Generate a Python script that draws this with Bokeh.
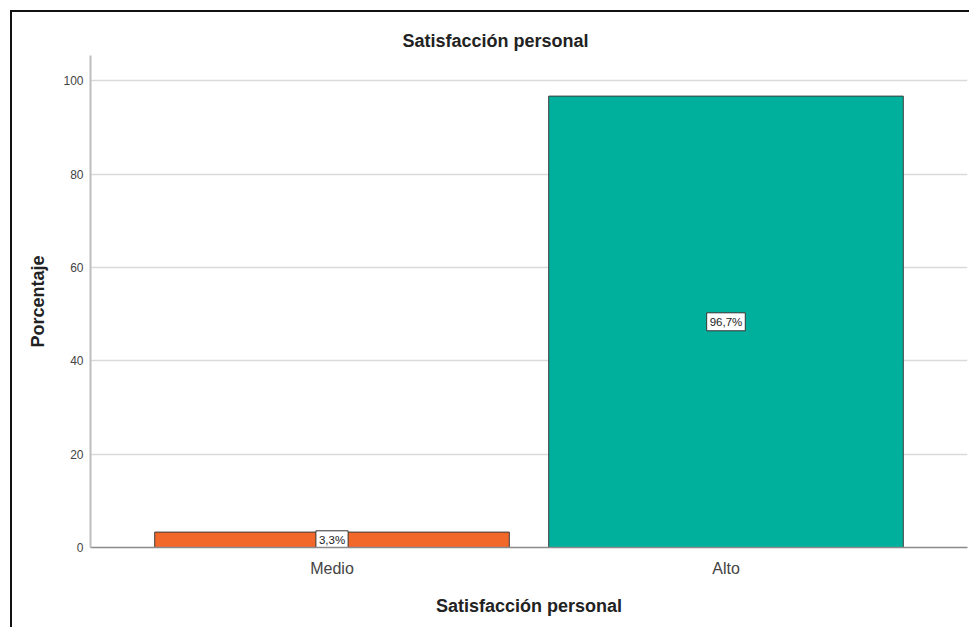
from bokeh.plotting import figure
from bokeh.models import ColumnDataSource, FactorRange, Range1d, FixedTicker, Title
from bokeh.core.properties import value
from bokeh.embed import file_html
from bokeh.resources import INLINE

# Data
categories = ["Medio", "Alto"]
percentages = [3.3, 96.7]
bar_colors = ["#F2672A", "#00B09C"]
y_ticks = [0, 20, 40, 60, 80, 100]

pct_labels = [f"{v:.1f}".replace(".", ",") + "%" for v in percentages]
source = ColumnDataSource(dict(
    cat=categories,
    pct=percentages,
    mid=[v / 2 for v in percentages],
    color=bar_colors,
    label=pct_labels,
))

FONT = "Liberation Sans"

p = figure(
    x_range=FactorRange(factors=categories, range_padding=0.113),
    y_range=Range1d(0, 105.4),
    width=959, height=617,
    min_border_left=78, min_border_right=4,
    min_border_top=43, min_border_bottom=82,
    output_backend="svg", toolbar_location=None,
    background_fill_color="white", border_fill_color="white",
    outline_line_color=None,
)
p.margin = (10, 0, 0, 10)
p.styles = {"border-top": "2px solid #111111", "border-left": "2px solid #111111"}

p.vbar(x="cat", top="pct", width=0.9, source=source,
       fill_color="color", line_color="#3c3c3c", line_width=1)

# Boxed value labels at the middle of each bar
p.text(x="cat", y="mid", text="label", source=source,
       text_align="center", text_baseline="middle",
       text_font=value(FONT), text_font_size="11.5px", text_color="#222222",
       background_fill_color="white",
       border_line_color="#333333", border_line_width=1,
       padding=3)

# Title
title = Title(text="Satisfacción personal", align="left", offset=312,
              text_font=FONT, text_font_size="18px", text_font_style="bold",
              text_color="#222222", standoff=10)
p.add_layout(title, "above")

# Axes
p.yaxis.ticker = FixedTicker(ticks=y_ticks)
p.yaxis.axis_label = "Porcentaje"
p.yaxis.axis_label_text_font = FONT
p.yaxis.axis_label_text_font_size = "18px"
p.yaxis.axis_label_text_font_style = "bold"
p.yaxis.axis_label_text_color = "#222222"
p.yaxis.axis_label_standoff = 12
p.yaxis.major_label_text_font = FONT
p.yaxis.major_label_text_font_size = "12px"
p.yaxis.major_label_text_color = "#444444"
p.yaxis.major_label_standoff = 1
p.yaxis.axis_line_color = "#bdbdbd"
p.yaxis.axis_line_width = 2
p.yaxis.major_tick_line_color = None
p.yaxis.minor_tick_line_color = None

p.xaxis.axis_label = "Satisfacción personal"
p.xaxis.axis_label_text_font = FONT
p.xaxis.axis_label_text_font_size = "18px"
p.xaxis.axis_label_text_font_style = "bold"
p.xaxis.axis_label_text_color = "#222222"
p.xaxis.axis_label_standoff = 16
p.xaxis.major_label_text_font = FONT
p.xaxis.major_label_text_font_size = "16px"
p.xaxis.major_label_text_color = "#444444"
p.xaxis.major_label_standoff = 6
p.xaxis.axis_line_color = "#8a8a8a"
p.xaxis.axis_line_width = 1.5
p.xaxis.major_tick_line_color = None

p.xgrid.grid_line_color = None
p.ygrid.grid_line_color = "#dadada"
p.ygrid.grid_line_width = 1.5

open("out.html", "w").write(file_html(p, INLINE))
